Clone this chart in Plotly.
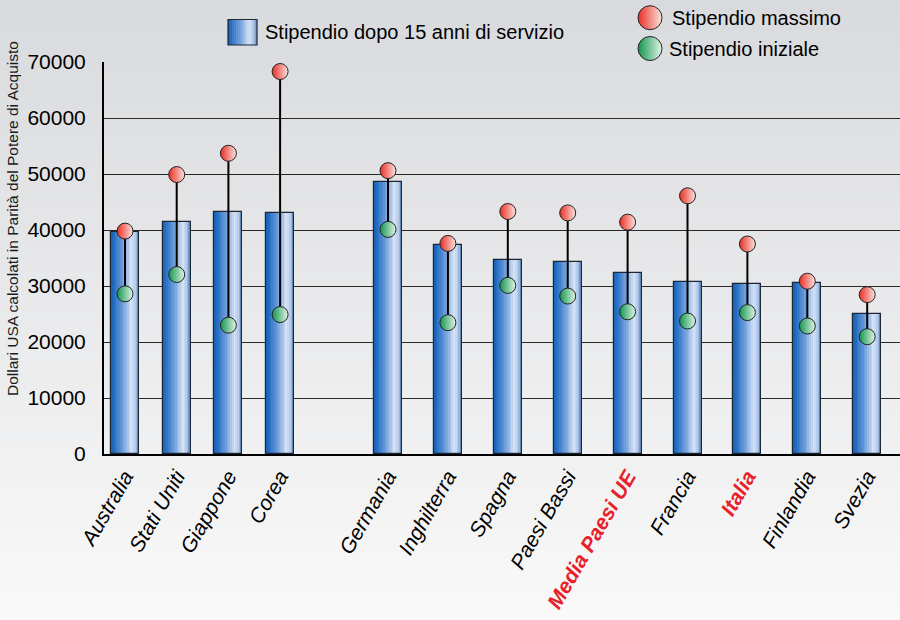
import plotly.graph_objects as go

# ---------------- data ----------------
paesi_gruppo1 = ["Australia", "Stati Uniti", "Giappone", "Corea"]
paesi_gruppo2 = ["Germania", "Inghilterra", "Spagna", "Paesi Bassi", "Media Paesi UE",
                 "Francia", "Italia", "Finlandia", "Svezia"]
stip_15anni_1 = [39700, 41450, 43300, 43050]
stip_15anni_2 = [48500, 37400, 34700, 34300, 32300, 30750, 30350, 30500, 25050]
stip_max_1 = [39800, 49900, 53700, 68300]
stip_max_2 = [50600, 37600, 43300, 43050, 41400, 46100, 37500, 30850, 28450]
stip_iniz_1 = [28600, 32050, 23000, 24900]
stip_iniz_2 = [40100, 23450, 30100, 28200, 25400, 23750, 25250, 22850, 20950]
evidenziati = ["Media Paesi UE", "Italia"]
y_ticks = [0, 10000, 20000, 30000, 40000, 50000, 60000, 70000]
y_ticktext = [str(v) for v in y_ticks]

# ---------------- geometry helpers (pixels -> paper) ----------------
W, H = 900, 620
ML, MR, MT, MB = 104, 0, 0, 166
PLOT_TOP = 62                      # top of the bar plotting region (px)
PW, PH = W - ML - MR, H - MT - MB
YDOM_TOP = (H - MB - PLOT_TOP) / PH


def px(x):
    return (x - ML) / PW


def py(y):
    return (H - MB - y) / PH


FONT = "Liberation Sans, Arial, Helvetica, sans-serif"

fig = go.Figure()

# bar gradient profile
stops = [(0.0, (22, 94, 178)), (0.12, (40, 112, 196)), (0.45, (120, 165, 222)),
         (0.72, (214, 226, 244)), (0.86, (180, 202, 234)), (1.0, (100, 145, 205))]


def grad(t):
    for (t0, c0), (t1, c1) in zip(stops[:-1], stops[1:]):
        if t0 <= t <= t1:
            f = (t - t0) / (t1 - t0)
            return "rgb(%d,%d,%d)" % tuple(round(a + (b - a) * f) for a, b in zip(c0, c1))
    return "rgb(%d,%d,%d)" % stops[-1][1]


N = 16

RED, RED_L = "rgb(232,45,35)", "rgb(252,228,222)"
GREEN, GREEN_L = "rgb(18,148,78)", "rgb(226,246,232)"


def add_bars(cats, vals, xa, ya, w):
    for k in range(N):
        t = (k + 0.5) / N
        off = -w / 2 + k * w / N
        ww = w / N * (1.25 if k < N - 1 else 1.0)
        fig.add_trace(go.Bar(x=cats, y=vals, width=ww, offset=off,
                             marker=dict(color=grad(t), line=dict(width=0)),
                             xaxis=xa, yaxis=ya, showlegend=False, hoverinfo="skip"))
    fig.add_trace(go.Bar(x=cats, y=vals, width=w, offset=-w / 2,
                         marker=dict(color="rgba(0,0,0,0)", line=dict(color="#1c2734", width=1.2)),
                         xaxis=xa, yaxis=ya, showlegend=False))


def add_range(cats, mx, mn, xa, ya, size):
    # horizontal gradient: marker colour on the left, gradient colour on the right
    fig.add_trace(go.Scatter(
        x=cats, y=mn, mode="markers", xaxis=xa, yaxis=ya, showlegend=False, cliponaxis=False,
        error_y=dict(type="data", symmetric=False, array=[a - b for a, b in zip(mx, mn)],
                     arrayminus=[0] * len(mn), width=0, thickness=2, color="black"),
        marker=dict(size=size, color=GREEN,
                    gradient=dict(type="horizontal", color=GREEN_L),
                    line=dict(color="#222", width=1))))
    fig.add_trace(go.Scatter(
        x=cats, y=mx, mode="markers", xaxis=xa, yaxis=ya, showlegend=False, cliponaxis=False,
        marker=dict(size=size, color=RED,
                    gradient=dict(type="horizontal", color=RED_L),
                    line=dict(color="#222", width=1))))


# group layout: centres in pixels
c1, s1 = 125, 51.7
c2, s2 = 388, 59.9
split = 333
bar_px = 28

add_bars(paesi_gruppo1, stip_15anni_1, "x", "y", bar_px / s1)
add_bars(paesi_gruppo2, stip_15anni_2, "x2", "y2", bar_px / s2)
add_range(paesi_gruppo1, stip_max_1, stip_iniz_1, "x", "y", 16)
add_range(paesi_gruppo2, stip_max_2, stip_iniz_2, "x2", "y2", 16)


def ticktexts(cats):
    out = []
    for c in cats:
        if c in evidenziati:
            out.append("<b><i><span style='color:#e8202a'>%s</span></i></b>" % c)
        else:
            out.append("<i>%s</i>" % c)
    return out


xcommon = dict(type="category", showline=True, linecolor="black", linewidth=2,
               showgrid=False, ticks="", tickangle=-60,
               tickfont=dict(family=FONT, size=21, color="black"),
               zeroline=False, fixedrange=True)

fig.update_layout(
    width=W, height=H, margin=dict(l=ML, r=MR, t=MT, b=MB, pad=0, autoexpand=False),
    paper_bgcolor="rgb(236,236,238)", plot_bgcolor="rgba(0,0,0,0)",
    barmode="overlay", bargap=0, showlegend=False,
    font=dict(family=FONT, color="black"),
    xaxis=dict(domain=[0, px(split)], anchor="y",
               range=[(ML - c1) / s1, (split - c1) / s1],
               tickvals=paesi_gruppo1, ticktext=ticktexts(paesi_gruppo1), **xcommon),
    xaxis2=dict(domain=[px(split), 1], anchor="y2",
                range=[(split - c2) / s2, (W - MR - c2) / s2],
                tickvals=paesi_gruppo2, ticktext=ticktexts(paesi_gruppo2), **xcommon),
    yaxis=dict(domain=[0, YDOM_TOP], anchor="x", range=[0, 70000],
               tickvals=y_ticks, ticktext=y_ticktext,
               showgrid=True, gridcolor="#2a2a2a", gridwidth=1,
               showline=True, linecolor="black", linewidth=2, zeroline=False,
               ticks="", ticklabelstandoff=12,
               tickfont=dict(family=FONT, size=21, color="black"), fixedrange=True),
    yaxis2=dict(domain=[0, YDOM_TOP], anchor="x2", matches="y", range=[0, 70000],
                tickvals=y_ticks,
                showgrid=True, gridcolor="#2a2a2a", gridwidth=1, showticklabels=False,
                showline=False, zeroline=False, ticks="", fixedrange=True),
    # overlay axes in pixel units for the legend symbols (cover the top area)
    xaxis3=dict(domain=[0, 1], anchor="y3", range=[ML, W - MR], visible=False, fixedrange=True),
    yaxis3=dict(domain=[0, 1], anchor="x3", range=[H - MB, MT], visible=False, fixedrange=True),
)

# background vertical gradient
shapes = []
top_c, bot_c = (217, 218, 221), (249, 249, 249)
nb = 62
for i in range(nb):
    y0 = H * i / nb
    y1 = H * (i + 1) / nb + 0.6
    f = (i + 0.5) / nb
    col = "rgb(%d,%d,%d)" % tuple(round(a + (b - a) * f) for a, b in zip(top_c, bot_c))
    shapes.append(dict(type="rect", xref="paper", yref="paper", layer="below",
                       x0=px(0), x1=px(W), y0=py(y1), y1=py(y0),
                       fillcolor=col, line=dict(width=0)))

# legend bar icon
lx0, lx1, ly0, ly1 = 228, 257, 19.5, 45
nl = 14
for k in range(nl):
    t = (k + 0.5) / nl
    a = lx0 + (lx1 - lx0) * k / nl
    b = lx0 + (lx1 - lx0) * (k + 1) / nl + 0.5
    shapes.append(dict(type="rect", xref="paper", yref="paper", layer="above",
                       x0=px(a), x1=px(min(b, lx1)), y0=py(ly1), y1=py(ly0),
                       fillcolor=grad(t), line=dict(width=0)))
shapes.append(dict(type="rect", xref="paper", yref="paper", layer="above",
                   x0=px(lx0), x1=px(lx1), y0=py(ly1), y1=py(ly0),
                   fillcolor="rgba(0,0,0,0)", line=dict(color="#1c2734", width=1.2)))
fig.update_layout(shapes=shapes)

# legend circle symbols
fig.add_trace(go.Scatter(x=[650], y=[17.7], mode="markers", xaxis="x3", yaxis="y3",
                         cliponaxis=False, showlegend=False, hoverinfo="skip",
                         marker=dict(size=24, color=RED,
                                     gradient=dict(type="horizontal", color=RED_L),
                                     line=dict(color="#222", width=1))))
fig.add_trace(go.Scatter(x=[650], y=[48.5], mode="markers", xaxis="x3", yaxis="y3",
                         cliponaxis=False, showlegend=False, hoverinfo="skip",
                         marker=dict(size=24, color=GREEN,
                                     gradient=dict(type="horizontal", color=GREEN_L),
                                     line=dict(color="#222", width=1))))

annots = [
    dict(text="Stipendio dopo 15 anni di servizio", x=px(263), y=py(32), xanchor="left",
         yanchor="middle", font=dict(size=20)),
    dict(text="Stipendio massimo", x=px(670), y=py(18), xanchor="left",
         yanchor="middle", font=dict(size=20)),
    dict(text="Stipendio iniziale", x=px(667), y=py(49), xanchor="left",
         yanchor="middle", font=dict(size=20)),
    dict(text="Dollari USA calcolati in Parità del Potere di Acquisto", x=px(12), y=py(219),
         xanchor="center", yanchor="middle", textangle=-90, font=dict(size=15.5, color="#1a1a1a")),
]
for a in annots:
    a.update(xref="paper", yref="paper", showarrow=False)
    a["font"].setdefault("family", FONT)
    a["font"].setdefault("color", "black")
fig.update_layout(annotations=annots)

fig.write_html("out.html")
